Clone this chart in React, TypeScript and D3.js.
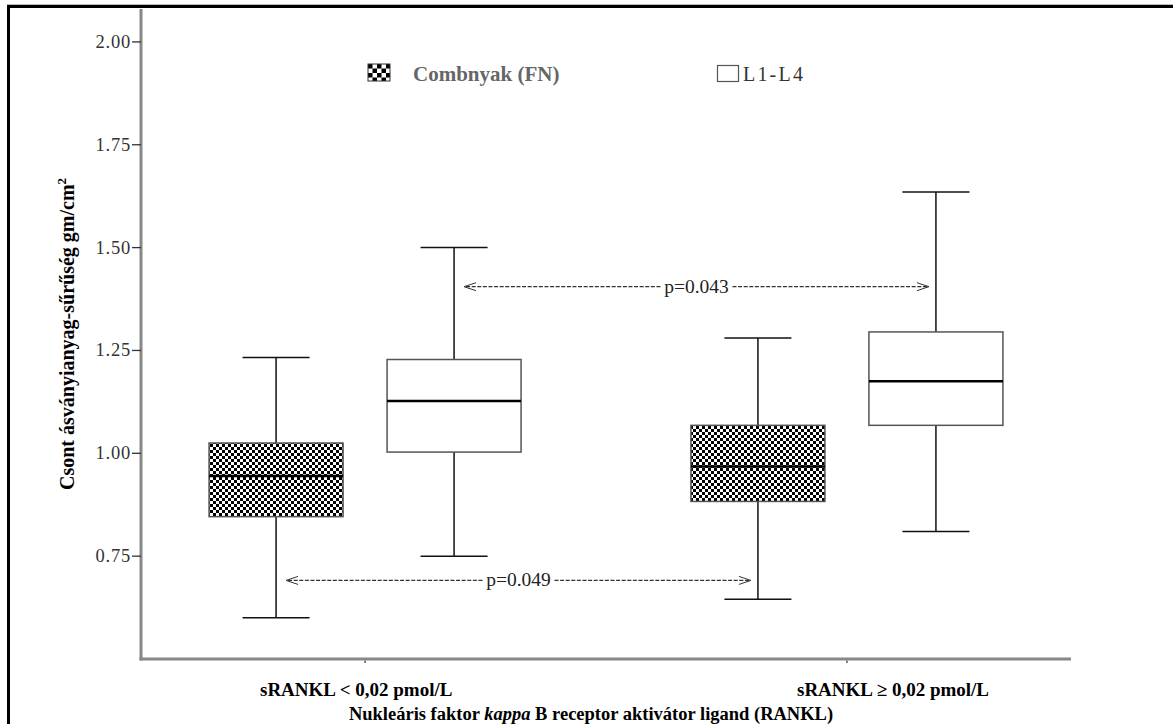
import React from "react";
import * as d3 from "d3";

const groups = ["sRANKL < 0,02 pmol/L", "sRANKL ≥ 0,02 pmol/L"];
const seriesNames = ["Combnyak (FN)", "L1-L4"];
const yTicks = [0.75, 1.0, 1.25, 1.5, 1.75, 2.0];

const fnMin = [0.6, 0.645];
const fnQ1 = [0.846, 0.883];
const fnMedian = [0.945, 0.968];
const fnQ3 = [1.025, 1.068];
const fnMax = [1.233, 1.28];

const lumbarMin = [0.75, 0.81];
const lumbarQ1 = [1.003, 1.068];
const lumbarMedian = [1.127, 1.175];
const lumbarQ3 = [1.228, 1.295];
const lumbarMax = [1.5, 1.635];

const pLabels = ["p=0.043", "p=0.049"];
const pLevels = [1.405, 0.691];
const pSeries = ["L1-L4", "Combnyak (FN)"];

const yTitle = "Csont ásványianyag-sűrűség gm/cm";
const xTitleA = "Nukleáris faktor ";
const xTitleB = "kappa";
const xTitleC = " B receptor aktivátor ligand (RANKL)";

const W = 1173;
const H = 724;
const L = 141;
const R = 1071;
const T = 9;
const B = 659;
const BOX_W = 134;

export default function App() {
  const y = d3.scaleLinear().domain([0.5, 2.08]).range([B, T]);
  const x = d3.scalePoint<string>().domain(groups).range([L, R]).padding(0.465);
  const sub = d3.scalePoint<string>().domain(seriesNames).range([-89, 89]);

  const boxes: any[] = [];
  groups.forEach((g, i) => {
    boxes.push({ g, s: seriesNames[0], min: fnMin[i], q1: fnQ1[i], med: fnMedian[i], q3: fnQ3[i], max: fnMax[i] });
    boxes.push({ g, s: seriesNames[1], min: lumbarMin[i], q1: lumbarQ1[i], med: lumbarMedian[i], q3: lumbarQ3[i], max: lumbarMax[i] });
  });

  const font = "'Liberation Serif', 'Times New Roman', serif";

  return (
    <div style={{ position: "absolute", left: 0, top: 0 }}>
      <svg width={W} height={H} style={{ display: "block", background: "#fff" }} fontFamily={font}>
        <defs>
          <pattern id="chk" width={6} height={6} patternUnits="userSpaceOnUse">
            <rect width={6} height={6} fill="#fff" />
            <rect width={3} height={3} fill="#000" />
            <rect x={3} y={3} width={3} height={3} fill="#000" />
          </pattern>
          <pattern id="chkL" width={9} height={9} patternUnits="userSpaceOnUse" x={368} y={64}>
            <rect width={9} height={9} fill="#fff" />
            <rect width={4.5} height={4.5} fill="#000" />
            <rect x={4.5} y={4.5} width={4.5} height={4.5} fill="#000" />
          </pattern>
        </defs>
        {/* outer frame */}
        <line x1={8.5} y1={5} x2={8.5} y2={H} stroke="#000" strokeWidth={3} />
        <line x1={7} y1={6.5} x2={W} y2={6.5} stroke="#000" strokeWidth={3} />
        <line x1={7} y1={4.5} x2={W} y2={4.5} stroke="#bbb" strokeWidth={1} />

        {/* axes */}
        <line x1={L} y1={T} x2={L} y2={B + 1.5} stroke="#888" strokeWidth={3} />
        <line x1={L - 1.5} y1={B} x2={R} y2={B} stroke="#888" strokeWidth={3} />
        {yTicks.map((t) => (
          <g key={t}>
            <line x1={L - 9} x2={L} y1={y(t)} y2={y(t)} stroke="#333" strokeWidth={1.3} />
            <text x={L - 10} y={y(t) + 6} textAnchor="end" fontSize={18.5} letterSpacing={0.8} fill="#333">
              {t.toFixed(2)}
            </text>
          </g>
        ))}
        {groups.map((g) => (
          <line key={g} x1={x(g)!} x2={x(g)!} y1={B + 1.5} y2={B + 4} stroke="#333" strokeWidth={1.2} />
        ))}

        {/* boxes */}
        {boxes.map((b, i) => {
          const cx = x(b.g)! + sub(b.s)!;
          const capW = BOX_W / 2;
          const fill = b.s === seriesNames[0] ? "url(#chk)" : "#fff";
          return (
            <g key={i}>
              <line x1={cx} x2={cx} y1={y(b.max)} y2={y(b.q3)} stroke="#111" strokeWidth={1.5} />
              <line x1={cx} x2={cx} y1={y(b.q1)} y2={y(b.min)} stroke="#111" strokeWidth={1.5} />
              <line x1={cx - capW / 2} x2={cx + capW / 2} y1={y(b.max)} y2={y(b.max)} stroke="#111" strokeWidth={1.5} />
              <line x1={cx - capW / 2} x2={cx + capW / 2} y1={y(b.min)} y2={y(b.min)} stroke="#111" strokeWidth={1.5} />
              <rect x={cx - BOX_W / 2} y={y(b.q3)} width={BOX_W} height={y(b.q1) - y(b.q3)} fill={fill} stroke="#555" strokeWidth={1.5} />
              <line x1={cx - BOX_W / 2} x2={cx + BOX_W / 2} y1={y(b.med)} y2={y(b.med)} stroke="#000" strokeWidth={2.5} />
            </g>
          );
        })}

        {/* p-value annotations */}
        {pLabels.map((lab, i) => {
          const s = pSeries[i];
          const x1 = x(groups[0])! + sub(s)! + 10;
          const x2 = x(groups[1])! + sub(s)! - 7;
          const yy = y(pLevels[i]);
          const mid = (x1 + x2) / 2;
          const half = 35;
          return (
            <g key={lab}>
              <path d={`M${x1 + 12},${yy - 4} L${x1},${yy} L${x1 + 12},${yy + 4}`} fill="none" stroke="#333" strokeWidth={1} />
              <path d={`M${x2 - 12},${yy - 4} L${x2},${yy} L${x2 - 12},${yy + 4}`} fill="none" stroke="#333" strokeWidth={1} />
              <line x1={x1 + 2} x2={mid - half - 1} y1={yy} y2={yy} stroke="#333" strokeWidth={1.2} strokeDasharray="4,1.6" />
              <line x1={mid + half + 1} x2={x2 - 2} y1={yy} y2={yy} stroke="#333" strokeWidth={1.2} strokeDasharray="4,1.6" />
              <text x={mid} y={yy + 6} textAnchor="middle" fontSize={19.5} fill="#222">
                {lab}
              </text>
            </g>
          );
        })}

        {/* legend */}
        <rect x={368} y={64} width={22} height={17} fill="url(#chkL)" stroke="#333" strokeWidth={1} />
        <text x={413} y={81} fontSize={21} fontWeight="bold" fill="#666">
          {seriesNames[0]}
        </text>
        <rect x={717.5} y={65.5} width={21} height={16} fill="#fff" stroke="#555" strokeWidth={1.2} />
        <text x={743} y={81} fontSize={20} fill="#333" letterSpacing={2.2}>
          {seriesNames[1]}
        </text>

        {/* x labels */}
        <text x={260} y={696} fontSize={19} fontWeight="bold" fill="#000">
          {groups[0]}
        </text>
        <text x={797} y={696} fontSize={19} fontWeight="bold" fill="#000">
          {groups[1]}
        </text>
        <text x={591} y={720} textAnchor="middle" fontSize={18.5} fontWeight="bold" fill="#000">
          {xTitleA}
          <tspan fontStyle="italic">{xTitleB}</tspan>
          {xTitleC}
        </text>

        {/* y title */}
        <text transform={`translate(74,${(T + B) / 2}) rotate(-90)`} textAnchor="middle" fontSize={20} fontWeight="bold" fill="#000">
          {yTitle}
          <tspan dy={-8} fontSize={13}>2</tspan>
        </text>
      </svg>
    </div>
  );
}
